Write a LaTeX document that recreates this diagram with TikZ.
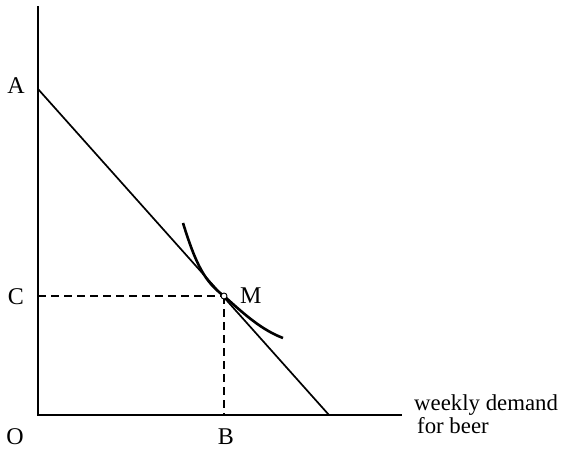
\documentclass[tikz,border=0pt]{standalone}
\usepackage{fontspec}
\setmainfont{Liberation Serif}
\begin{document}
\begin{tikzpicture}[x=1pt,y=-1pt,
  axis/.style={line width=2.4pt},
  budget/.style={line width=1.7pt},
  guide/.style={line width=1.1pt,dash pattern=on 8pt off 5pt},
  indiff/.style={line width=2.6pt},
  lab/.style={font=\fontsize{24}{26}\selectfont, inner sep=0pt},
  small/.style={font=\fontsize{22.8}{25}\selectfont, inner sep=0pt},
  pt/.style={circle,draw,fill=white,line width=0.9pt,minimum size=6pt,inner sep=0pt}]
\useasboundingbox (0,0) rectangle (564,450);
\coordinate (top) at (38,6);
\coordinate (O0) at (38,415);
\coordinate (xend) at (402,415);
\coordinate (Astart) at (38,89);
\coordinate (Aend) at (329,415);
\coordinate (Cpt) at (38,296);
\coordinate (Bpt) at (224,415);
\coordinate (M0) at (224,296);
\draw[axis] (top) -- (O0) -- (xend);
\draw[budget] (Astart) -- (Aend);
\draw[guide] (Cpt) -- (M0);
\draw[guide] (M0) -- (Bpt);
\draw[indiff] (183,223) .. controls (196,265) and (205,282) .. (M0) .. controls (245,315) and (262,330) .. (283,338);
\node[pt] (M) at (M0) {};
\node[lab] (A) at (16,86) {A};
\node[lab] (C) at (16,297) {C};
\node[lab] (O) at (15,437) {O};
\node[lab] (B) at (226,437) {B};
\node[lab,anchor=west] (Ml) at (240,296) {M};
\node[small,anchor=base west] (w1) at (414,410) {weekly demand};
\node[small,anchor=base west] (w2) at (417,433) {for beer};
\end{tikzpicture}
\end{document}
